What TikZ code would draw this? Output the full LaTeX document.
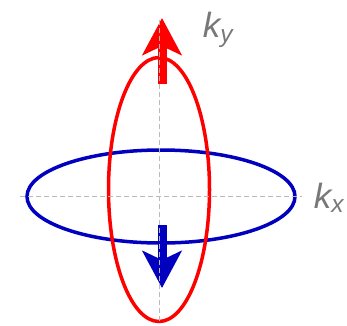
\documentclass[tikz,border=0pt]{standalone}
\usepackage{fontspec}
\setmainfont{Liberation Sans}
\usetikzlibrary{arrows.meta}
\definecolor{kred}{RGB}{255,0,0}
\definecolor{kblue}{RGB}{0,0,190}
\definecolor{kgray}{RGB}{120,120,120}
\begin{document}
\begin{tikzpicture}[x=1pt,y=-1pt,
    axis/.style={gray!55, line width=1pt, dash pattern=on 5pt off 3pt},
    ring/.style={line width=3.5pt},
    spin/.style={line width=9pt, -{Stealth[length=37pt,width=39pt,inset=9pt]}},
    klabel/.style={text=kgray, font=\fontsize{35}{37}\selectfont\itshape, inner sep=0pt}]
    \useasboundingbox (0,0) rectangle (347,325);
    \coordinate (O) at (160,196);
    \coordinate (Xl) at (20,196);
    \coordinate (Xr) at (302,196);
    \coordinate (Yt) at (159.5,20);
    \coordinate (Yb) at (159.5,323);
    \coordinate (Rs) at (162,84);
    \coordinate (Rt) at (162,18);
    \coordinate (Bs) at (162,225);
    \coordinate (Bt) at (162,288);

    \draw[ring, kblue] (161,196.5) ellipse [x radius=134, y radius=46.5];
    \draw[ring, kred] (159,189.5) ellipse [x radius=50.5, y radius=132];

    \draw[spin, kred] (Rs) -- (Rt);
    \draw[spin, kblue] (Bs) -- (Bt);

    \draw[axis] (Xl) -- (Xr);
    \draw[axis] (Yt) -- (Yb);

    \node[klabel] (ky) at (218,30) {k\textsubscript{y}};
    \node[klabel] (kx) at (329,198) {k\textsubscript{x}};
\end{tikzpicture}
\end{document}
